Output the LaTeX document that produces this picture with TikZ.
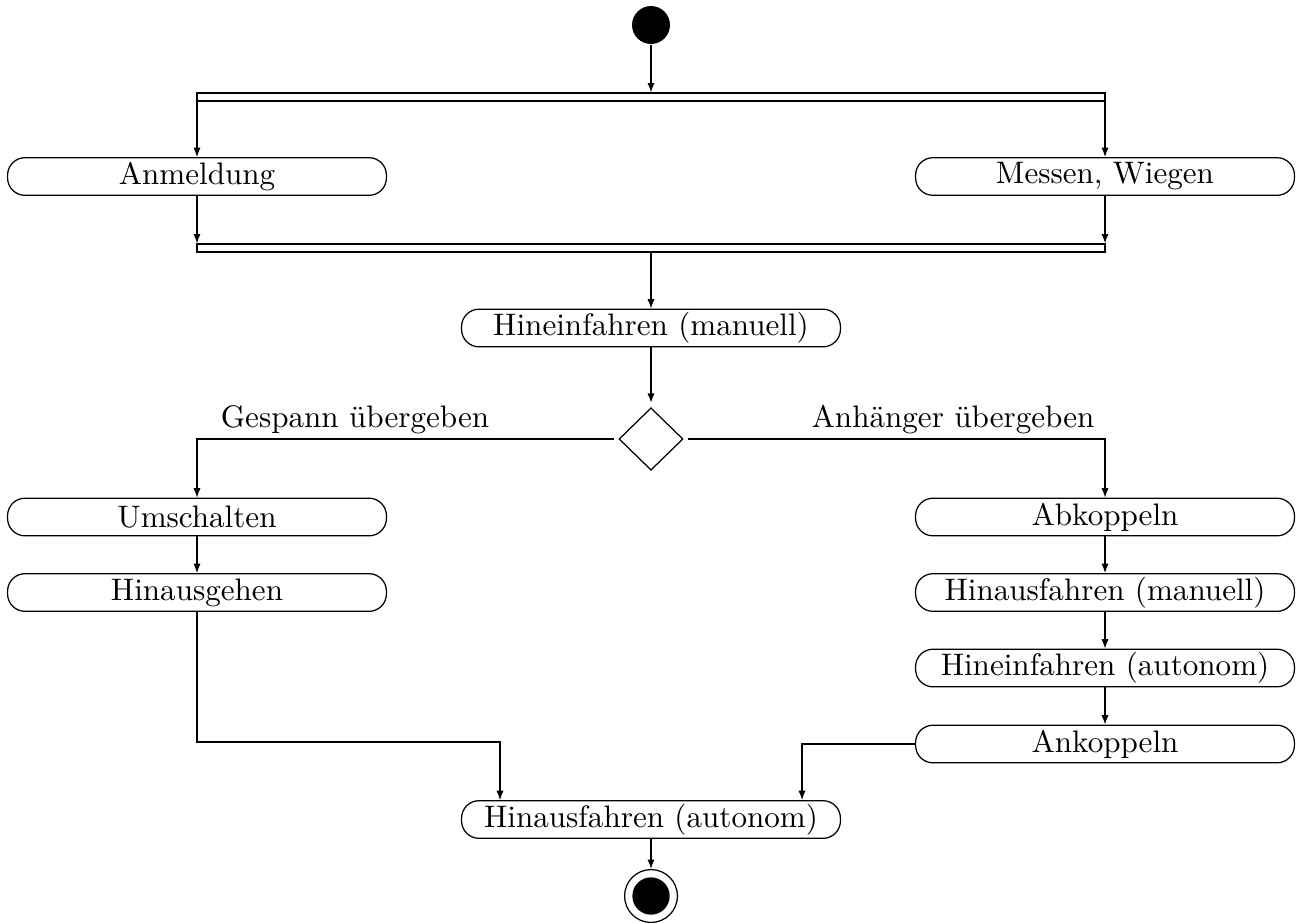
\documentclass[tikz,border=0pt]{standalone}
\usetikzlibrary{arrows.meta,shapes.geometric,calc}
\begin{document}
\begin{tikzpicture}[x=0.3215pt,y=-0.3215pt,
  act/.style={draw, rounded corners=5.6pt, minimum width=121.8pt, minimum height=12.1pt, inner sep=0pt},
  bar/.style={draw, minimum width=291.9pt, minimum height=2.6pt, inner sep=0pt},
  flow/.style={-{Latex[length=3pt,width=2.3pt]}},
  initial/.style={circle, fill=black, minimum size=12.2pt, inner sep=0pt},
  decision/.style={diamond, draw, minimum width=21.4pt, minimum height=20.9pt, inner sep=0pt, outer sep=1.2pt},
  lbl/.style={anchor=base, inner sep=0pt}]
\useasboundingbox (0,0) rectangle (1299,922);

% start, fork and parallel activities
\node[initial] (start) at (651,25) {};
\node[bar] (fork) at (651,97) {};
\node[act] (anm) at (197,176.5) {Anmeldung};
\node[act] (mess) at (1105,176.5) {Messen, Wiegen};
\node[bar] (join) at (651,248) {};
\node[act] (hinm) at (651,328) {Hineinfahren (manuell)};

% decision
\node[decision] (dec) at (651,439) {};
\node[lbl] (lgesp) at (355,427) {Gespann übergeben};
\node[lbl] (lanh) at (953,427) {Anhänger übergeben};

% left branch
\node[act] (ums) at (197,517) {Umschalten};
\node[act] (hgeh) at (197,592.5) {Hinausgehen};

% right branch
\node[act] (abk) at (1105,517) {Abkoppeln};
\node[act] (hausm) at (1105,592.5) {Hinausfahren (manuell)};
\node[act] (hina) at (1105,668) {Hineinfahren (autonom)};
\node[act] (ank) at (1105,744) {Ankoppeln};

% merge and end
\node[act] (haus) at (651,819.5) {Hinausfahren (autonom)};
\node[circle, draw, minimum size=17pt, inner sep=0pt] (final) at (651,896) {};
\node[initial, minimum size=12pt] (finaldot) at (final) {};

% connectors
\draw[flow] (start) -- (fork);
\draw[flow] (anm.north |- fork.south) -- (anm);
\draw[flow] (mess.north |- fork.south) -- (mess);
\draw[flow] (anm) -- (anm.south |- join.north);
\draw[flow] (mess) -- (mess.south |- join.north);
\draw[flow] (join) -- (hinm);
\draw[flow] (hinm) -- (dec);
\draw[flow] (dec.west) -| (ums);
\draw[flow] (dec.east) -| (abk);
\draw[flow] (ums) -- (hgeh);
\draw[flow] (abk) -- (hausm);
\draw[flow] (hausm) -- (hina);
\draw[flow] (hina) -- (ank);
\draw[flow] (hgeh.south) |- ($(haus.north)+(-151,-58)$) -- ($(haus.north)+(-151,0)$);
\draw[flow] (ank.west) -| ($(haus.north)+(151,0)$);
\draw[flow] (haus) -- (final);
\end{tikzpicture}
\end{document}
